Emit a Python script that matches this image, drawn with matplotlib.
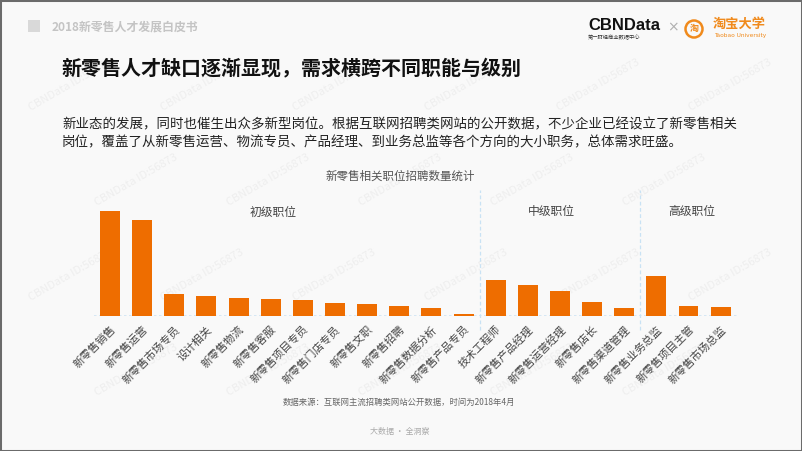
import matplotlib
matplotlib.use("Agg")
import matplotlib.pyplot as plt
from matplotlib.patches import Rectangle, Circle
from matplotlib.transforms import IdentityTransform

plt.rcParams['font.family'] = ['Noto Sans CJK SC', 'DejaVu Sans']

# chart data (relative bar heights)
categories = ['新零售销售', '新零售运营', '新零售市场专员', '设计相关', '新零售物流',
              '新零售客服', '新零售项目专员', '新零售门店专员', '新零售文职', '新零售招聘',
              '新零售数据分析', '新零售产品专员', '技术工程师', '新零售产品经理',
              '新零售运营经理', '新零售店长', '新零售渠道管理', '新零售业务总监',
              '新零售项目主管', '新零售市场总监']
values = [105, 96, 21.5, 20, 17.5, 16.7, 15.7, 12.7, 11.4, 9.4, 7.7, 1.7,
          35.7, 30.7, 24.4, 13.7, 8, 40, 9.7, 8.7]
group_names = ['初级职位', '中级职位', '高级职位']
group_sizes = [12, 5, 3]

W, H = 802, 451
BG = '#f9f9f9'
ORANGE = '#ee6d00'


def fx(px):
    return px / W


def fy(py):
    return 1 - py / H


fig = plt.figure(figsize=(W / 100, H / 100), dpi=100, facecolor=BG)

# outer frame
fig.add_artist(Rectangle((0, 0), 1, 1, transform=fig.transFigure, fill=False,
                         edgecolor='#6b6b6b', linewidth=2.2))

# faint watermarks (kept inside the frame)
for row, py in enumerate([85, 180, 275, 370]):
    off = 0 if row % 2 == 0 else 66
    for k in range(6):
        px = 70 + off + k * 132
        if px > 750:
            continue
        fig.text(fx(px), fy(py), 'CBNData ID:56873', fontsize=8, color='#eeeeee',
                 rotation=30, ha='center', va='center', zorder=0)

# header
fig.add_artist(Rectangle((fx(28), fy(32)), 12 / W, 12 / H, transform=fig.transFigure,
                         facecolor='#d9d9d9', edgecolor='none'))
fig.text(fx(52), fy(26.5), '2018新零售人才发展白皮书', fontsize=8.6, color='#c4c4c4',
         fontweight='bold', va='center', ha='left')

# logos
fig.text(fx(588), fy(25.5), 'CBNData', fontsize=12, fontweight='bold', color='#111111',
         va='center', ha='left', family=['Liberation Sans'])
fig.text(fx(588), fy(37), '第一财经商业数据中心', fontsize=3.8, color='#333333',
         va='center', ha='left')
fig.text(fx(673), fy(27), '×', fontsize=10, color='#b0b0b0', va='center', ha='center',
         family=['DejaVu Sans'])
fig.add_artist(Circle((694, H - 29), 8.5, transform=IdentityTransform(), fill=False,
                      edgecolor='#f08a1c', linewidth=1.8))
fig.text(fx(694), fy(29), '淘', fontsize=6.5, color='#f08a1c', fontweight='bold',
         va='center', ha='center')
fig.text(fx(713), fy(24), '淘宝大学', fontsize=9.5, color='#f08a1c', fontweight='bold',
         va='center', ha='left')
fig.text(fx(714), fy(35.5), 'Taobao University', fontsize=4.2, color='#f08a1c',
         va='center', ha='left', family=['DejaVu Sans'])

# title and paragraph
fig.text(fx(61), fy(68), '新零售人才缺口逐渐显现，需求横跨不同职能与级别', fontsize=14.4,
         fontweight='bold', color='#111111', va='center', ha='left')
fig.text(fx(62), fy(124), '新业态的发展，同时也催生出众多新型岗位。根据互联网招聘类网站的公开数据，'
         '不少企业已经设立了新零售相关', fontsize=9.7, color='#222222', va='center', ha='left')
fig.text(fx(62), fy(142.7), '岗位，覆盖了从新零售运营、物流专员、产品经理、到业务总监等各个方向的大小职务，'
         '总体需求旺盛。', fontsize=9.7, color='#222222', va='center', ha='left')
fig.text(fx(400), fy(176), '新零售相关职位招聘数量统计', fontsize=8.3, color='#555555',
         va='center', ha='center')

# bar chart axes: bar 0 centre at x=110px, pitch 32.14px, baseline at y=315.7px
pitch = 32.14
x0 = 110 - 0.5 * pitch
x1 = 110 + 19.5 * pitch
top_px, base_px = 195, 315.7
ax = fig.add_axes([fx(x0), fy(base_px), (x1 - x0) / W, (base_px - top_px) / H])
ax.set_zorder(2)
ax.set_facecolor('none')
xs = list(range(len(categories)))
ax.bar(xs, values, width=0.62, color=ORANGE, zorder=3)
ax.set_xlim(-0.5, 19.5)
ax.set_ylim(0, base_px - top_px)
for s in ax.spines.values():
    s.set_visible(False)
ax.set_yticks([])
ax.set_xticks(xs)
ax.set_xticklabels(categories, rotation=45, ha='right', va='top', rotation_mode='anchor',
                   fontsize=7.8, color='#444444')
ax.tick_params(axis='x', length=0, pad=6)
ax.axhline(0, color='#cfe4f4', linewidth=1.2, linestyle=(0, (1.5, 1.5)), zorder=2)

# group separators and labels
bounds = [sum(group_sizes[:k]) - 0.5 for k in range(1, len(group_sizes))]
for b in bounds:
    ax.plot([b, b], [-0.12, 1.04], transform=ax.get_xaxis_transform(), clip_on=False,
            color='#c9e2f4', linewidth=0.9, linestyle=(0, (3, 2)))
label_x = [5.07, 13.72, 18.1]
for name, lx in zip(group_names, label_x):
    ax.text(lx, base_px - 212, name, fontsize=8.5, color='#444444', ha='center', va='center')

# footer
fig.text(fx(283), fy(402.5), '数据来源：互联网主流招聘类网站公开数据，时间为2018年4月', fontsize=6,
         color='#666666', va='center', ha='left')
fig.text(fx(400), fy(431), '大数据 · 全洞察', fontsize=5.8, color='#aaaaaa',
         va='center', ha='center')

fig.savefig('out.png', dpi=100, facecolor=BG)
